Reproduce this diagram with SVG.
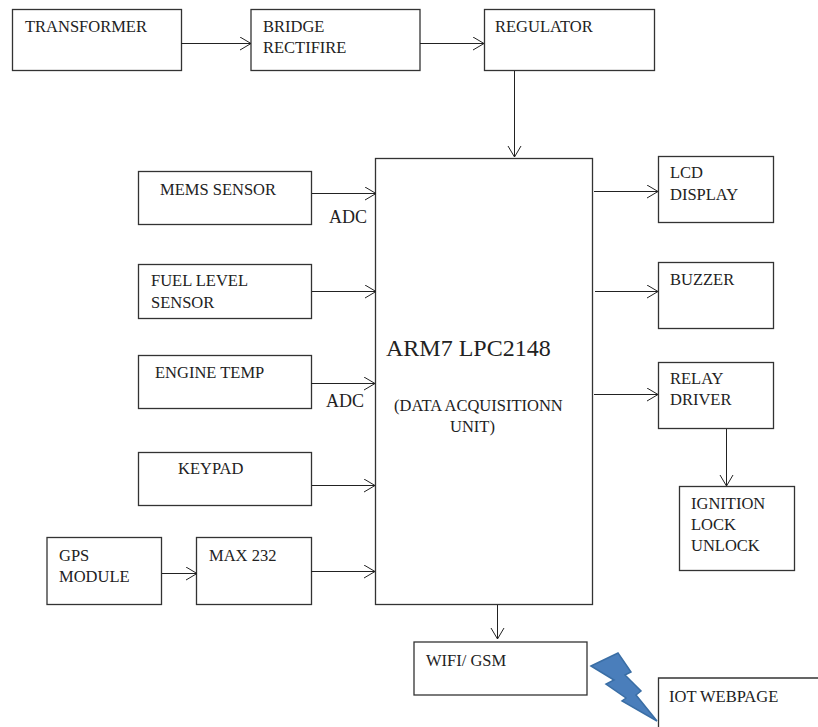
<svg xmlns="http://www.w3.org/2000/svg" width="818" height="727" viewBox="0 0 818 727">
<style>
.b{fill:#fff;stroke:#333;stroke-width:1.3}
.t{font-family:"Liberation Serif",serif;font-size:16.5px;fill:#222}
.c line{stroke:#222;stroke-width:1;marker-end:url(#a)}
</style>
<defs><marker id="a" markerUnits="userSpaceOnUse" markerWidth="14" markerHeight="16" refX="11" refY="7" orient="auto"><path d="M0 0.5L11 7L0 13.5" fill="none" stroke="#222" stroke-width="1"/></marker></defs>
<rect width="818" height="727" fill="#fff"/>
<g id="transformer"><rect class="b" x="12.500" y="9.500" width="169" height="61"/><text class="t" x="25" y="32">TRANSFORMER</text></g>
<g id="bridge"><rect class="b" x="251" y="9.500" width="169" height="61"/><text class="t" x="263" y="32">BRIDGE</text><text class="t" x="263" y="53">RECTIFIRE</text></g>
<g id="regulator"><rect class="b" x="484.500" y="9.500" width="170" height="61"/><text class="t" x="495" y="32">REGULATOR</text></g>
<g id="arm"><rect class="b" x="375.500" y="158.500" width="217" height="446"/><text x="386" y="356" font-family="Liberation Serif,serif" font-size="24" fill="#222">ARM7 LPC2148</text><text class="t" x="394" y="411">(DATA ACQUISITIONN</text><text class="t" x="450" y="432">UNIT)</text></g>
<g id="mems"><rect class="b" x="138.500" y="171.500" width="173" height="53"/><text class="t" x="160" y="195">MEMS SENSOR</text></g>
<g id="fuel"><rect class="b" x="138.500" y="264.500" width="173" height="54"/><text class="t" x="151" y="286">FUEL LEVEL</text><text class="t" x="151" y="308">SENSOR</text></g>
<g id="engine"><rect class="b" x="138.500" y="355.500" width="173" height="53"/><text class="t" x="155" y="378">ENGINE TEMP</text></g>
<g id="keypad"><rect class="b" x="138.500" y="452.500" width="173" height="53"/><text class="t" x="178" y="474">KEYPAD</text></g>
<g id="gps"><rect class="b" x="47" y="537.500" width="114.500" height="67"/><text class="t" x="59" y="561">GPS</text><text class="t" x="59" y="582">MODULE</text></g>
<g id="max232"><rect class="b" x="196.500" y="537.500" width="115" height="67"/><text class="t" x="209" y="561">MAX 232</text></g>
<g id="lcd"><rect class="b" x="658.500" y="156.500" width="115" height="66"/><text class="t" x="670" y="178">LCD</text><text class="t" x="670" y="200">DISPLAY</text></g>
<g id="buzzer"><rect class="b" x="658.500" y="262.500" width="115" height="66"/><text class="t" x="670" y="285">BUZZER</text></g>
<g id="relay"><rect class="b" x="658.500" y="362.500" width="115" height="66"/><text class="t" x="670" y="384">RELAY</text><text class="t" x="670" y="405">DRIVER</text></g>
<g id="ignition"><rect class="b" x="679.500" y="486.500" width="115" height="84"/><text class="t" x="691" y="509">IGNITION</text><text class="t" x="691" y="530">LOCK</text><text class="t" x="691" y="551">UNLOCK</text></g>
<g id="wifi"><rect class="b" x="414" y="642" width="173" height="53"/><text class="t" x="426" y="666">WIFI/ GSM</text></g>
<g id="iot"><path class="b" d="M818 678H658.500V727"/><text class="t" x="669" y="702">IOT WEBPAGE</text></g>
<path id="bolt" d="M591 666L618 653L631 672L625 675L641 691L636 695L657 721L622 701L626 698L606 684L614 680Z" fill="#4a7ebb" stroke="#3a6ea5" stroke-width="1.500"/>
<g id="adc-labels"><text x="329" y="223" font-family="Liberation Serif,serif" font-size="18" fill="#222">ADC</text><text x="326" y="407" font-family="Liberation Serif,serif" font-size="18" fill="#222">ADC</text></g>
<g id="connectors" class="c">
<line x1="181" y1="43.500" x2="251" y2="43.500"/>
<line x1="420" y1="43.500" x2="484" y2="43.500"/>
<line x1="514.500" y1="71" x2="514.500" y2="157"/>
<line x1="312" y1="193.500" x2="376" y2="193.500"/>
<line x1="312" y1="291.500" x2="376" y2="291.500"/>
<line x1="311" y1="383.500" x2="375" y2="383.500"/>
<line x1="312" y1="485.500" x2="375" y2="485.500"/>
<line x1="162" y1="573.500" x2="197" y2="573.500"/>
<line x1="311" y1="571.500" x2="375" y2="571.500"/>
<line x1="594" y1="191.500" x2="658" y2="191.500"/>
<line x1="595" y1="291.500" x2="658" y2="291.500"/>
<line x1="594" y1="394.500" x2="658" y2="394.500"/>
<line x1="726.500" y1="429" x2="726.500" y2="486"/>
<line x1="497.500" y1="605" x2="497.500" y2="639"/>
</g>
</svg>
